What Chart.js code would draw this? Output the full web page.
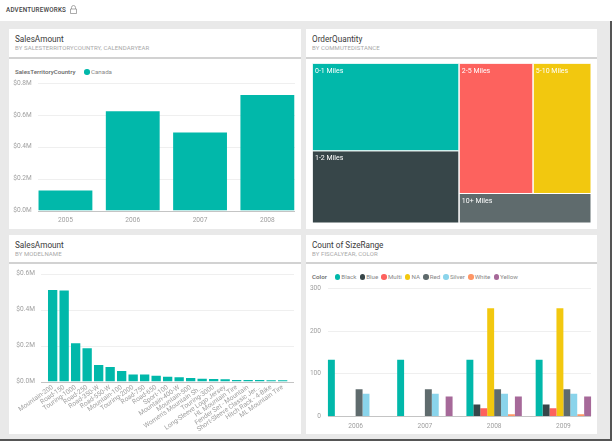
<!DOCTYPE html>
<html>
<head>
<meta charset="utf-8">
<script src="https://cdn.jsdelivr.net/npm/chart.js@4/dist/chart.umd.min.js"></script>
<style>
    html, body { margin: 0; padding: 0; background: #fff; }
    body { width: 614px; height: 443px; position: relative; overflow: hidden; font-family: Roboto, sans-serif; filter: blur(.3px); }
    #page { position: absolute; left: 0; top: 21px; width: 610px; height: 418px; background: #e9e9e9; border-right: 2px solid #555; border-bottom: 2px solid #555; }
    #brand { position: absolute; left: 6px; top: 3.5px; font-size: 6.3px; line-height: 12px; font-weight: 500; letter-spacing: .2px; color: #444; white-space: nowrap; }
    #lock { position: absolute; left: 70px; top: 5px; }
    .tile { position: absolute; background: #fff; }
    .head { position: absolute; background: #fff; border-bottom: 2px solid #d2d2d2; box-sizing: border-box; }
    .title { position: absolute; left: 6px; top: 2.5px; font-size: 8.2px; line-height: 14px; color: #3a3a3a; white-space: nowrap; }
    .sub { position: absolute; left: 6px; top: 14px; font-size: 6px; line-height: 10px; letter-spacing: .1px; color: #a8a8a8; white-space: nowrap; }
    canvas { position: absolute; }
    .legend { position: absolute; font-size: 6.2px; line-height: 10px; color: #888; white-space: nowrap; display: flex; align-items: center; }
    .legend b { font-weight: 500; color: #666; }
    .legend i { display: inline-block; width: 5.5px; height: 5.5px; border-radius: 50%; margin-right: 1px; }
</style>
</head>
<body>
<div id="page"></div>
<div id="brand">ADVENTUREWORKS</div>
<svg id="lock" width="7" height="9" viewBox="0 0 7 9"><path d="M1.5 4V2.5a2 2 0 0 1 4 0V4M.5 4h6v4.5h-6z" fill="none" stroke="#888" stroke-width=".7"/></svg>

<div class="tile" style="left:9px;top:29px;width:292px;height:200px"></div>
<div class="head" style="left:9px;top:29px;width:292px;height:30px"><div class="title">SalesAmount</div><div class="sub">BY SALESTERRITORYCOUNTRY, CALENDARYEAR</div></div>
<div class="legend" id="legendYear" style="left:15px;top:67px"></div>
<canvas id="yearChart" width="292" height="169" style="left:9px;top:60px"></canvas>

<div class="tile" style="left:306px;top:29px;width:291px;height:200px"></div>
<div class="head" style="left:306px;top:29px;width:291px;height:30px"><div class="title">OrderQuantity</div><div class="sub">BY COMMUTEDISTANCE</div></div>
<canvas id="commuteChart" width="291" height="169" style="left:306px;top:60px"></canvas>

<div class="tile" style="left:9px;top:235px;width:292px;height:199px"></div>
<div class="head" style="left:9px;top:235px;width:292px;height:29px"><div class="title">SalesAmount</div><div class="sub">BY MODELNAME</div></div>
<canvas id="modelChart" width="292" height="170" style="left:9px;top:264px"></canvas>

<div class="tile" style="left:306px;top:235px;width:291px;height:199px"></div>
<div class="head" style="left:306px;top:235px;width:291px;height:29px"><div class="title">Count of SizeRange</div><div class="sub">BY FISCALYEAR, COLOR</div></div>
<div class="legend" id="legendColor" style="left:312px;top:272px"></div>
<canvas id="sizeChart" width="292" height="170" style="left:306px;top:264px"></canvas>

<script>
    // Données
    const years = ['2005', '2006', '2007', '2008'];
    const salesByYear = [0.126, 0.622, 0.49, 0.724];
    const salesYearTicks = ['$0.0M', '$0.2M', '$0.4M', '$0.6M', '$0.8M'];

    const commuteNames = ['0-1 Miles', '1-2 Miles', '2-5 Miles', '5-10 Miles', '10+ Miles'];
    const commuteValues = [12670, 10490, 9510, 7475, 3855];

    const modelNames = ['Mountain-200', 'Road-150', 'Touring-1000', 'Road-250', 'Road-350-W', 'Road-550-W', 'Mountain-100',
        'Touring-2000', 'Road-750', 'Road-650', 'Sport-100', 'Mountain-400-W', 'Mountain-500', "Women's Mountain Sh...",
        'Touring-3000', 'Long-Sleeve Logo Jersey', 'HL Mountain Tire', 'Fender Set - Mountain', 'Short-Sleeve Classic Jer...',
        'Hitch Rack - 4-Bike', 'ML Mountain Tire'];
    const salesByModel = [0.509, 0.505, 0.213, 0.185, 0.091, 0.08, 0.059, 0.039, 0.039, 0.032, 0.026, 0.024, 0.02, 0.015,
        0.014, 0.012, 0.009, 0.009, 0.008, 0.007, 0.007];

    const fiscalYears = ['2006', '2007', '2008', '2009'];
    const colorNames = ['Black', 'Blue', 'Multi', 'NA', 'Red', 'Silver', 'White', 'Yellow'];
    const blackCounts = [132, 132, 132, 132];
    const blueCounts = [null, null, 27, 27];
    const multiCounts = [null, null, 18, 18];
    const naCounts = [null, null, 253, 253];
    const redCounts = [63, 63, 63, 63];
    const silverCounts = [52, 52, 52, 52];
    const whiteCounts = [null, null, 4, 4];
    const yellowCounts = [null, 46, 46, 46];

    const palette = ['#01B8AA', '#374649', '#FD625E', '#F2C80F', '#5F6B6D', '#8AD4EB', '#FE9666', '#A66999'];
    const tickFont = { family: 'Roboto, sans-serif', size: 6.6 };
    const tickColor = '#a0a0a0';

    // Lignes de grille plus courtes ou plus longues que la zone du graphique
    const gridLines = {
        id: 'gridLines',
        beforeDatasetsDraw(chart, args, opts) {
            const ctx = chart.ctx, y = chart.scales.y;
            ctx.save();
            ctx.lineWidth = 1;
            y.ticks.forEach(t => {
                const py = Math.round(y.getPixelForValue(t.value)) + 0.5;
                ctx.strokeStyle = t.value === 0 ? '#c4c4c4' : '#efefef';
                ctx.beginPath();
                ctx.moveTo(opts.from, py);
                ctx.lineTo(opts.to, py);
                ctx.stroke();
            });
            ctx.restore();
        }
    };

    function fixedSize(width) {
        return s => { s.width = width; s.paddingTop = 0; s.paddingBottom = 0; };
    }
    function fixedHeight(height) {
        return s => { s.height = height; s.paddingLeft = 0; s.paddingRight = 0; };
    }

    function barOptions(box, yMax, yStep, yFormat, xTicks) {
        return {
            responsive: false,
            animation: false,
            devicePixelRatio: 1,
            layout: { padding: { top: box.top, right: box.right, left: 0, bottom: 0 } },
            plugins: { legend: { display: false }, tooltip: { enabled: false }, gridLines: { from: box.from, to: box.to } },
            scales: {
                x: {
                    grid: { display: false, drawTicks: false },
                    border: { display: false },
                    afterFit: fixedHeight(box.xHeight),
                    ticks: Object.assign({ font: tickFont, color: tickColor, padding: 6, autoSkip: false, maxRotation: 0 }, xTicks)
                },
                y: {
                    min: 0,
                    max: yMax,
                    grid: { display: false, drawTicks: false },
                    border: { display: false },
                    afterFit: fixedSize(box.yWidth),
                    ticks: { stepSize: yStep, font: tickFont, color: tickColor, padding: box.yPad, callback: yFormat }
                }
            }
        };
    }

    new Chart(document.getElementById('yearChart'), {
        type: 'bar',
        data: {
            labels: years,
            datasets: [{ label: 'Canada', data: salesByYear, backgroundColor: palette[0], barPercentage: 1, categoryPercentage: 0.8 }]
        },
        options: barOptions({ top: 23, right: 0, from: 29, to: 286, xHeight: 18.5, yWidth: 22.8, yPad: 0 }, 0.8, 0.2,
            v => salesYearTicks[Math.round(v / 0.2)]),
        plugins: [gridLines]
    });

    new Chart(document.getElementById('modelChart'), {
        type: 'bar',
        data: {
            labels: modelNames,
            datasets: [{ label: 'SalesAmount', data: salesByModel, backgroundColor: palette[0], barPercentage: 1, categoryPercentage: 0.81 }]
        },
        options: barOptions({ top: 9.5, right: 12.6, from: 32, to: 285, xHeight: 52.5, yWidth: 37.9, yPad: 12 }, 0.6, 0.2,
            v => salesYearTicks[Math.round(v / 0.2)], { minRotation: 35, maxRotation: 35, padding: 2 }),
        plugins: [gridLines]
    });

    const sizeSeries = [blackCounts, blueCounts, multiCounts, naCounts, redCounts, silverCounts, whiteCounts, yellowCounts];
    new Chart(document.getElementById('sizeChart'), {
        type: 'bar',
        data: {
            labels: fiscalYears,
            datasets: colorNames.map((name, i) => ({
                label: name, data: sizeSeries[i], backgroundColor: palette[i], barPercentage: 1, categoryPercentage: 0.8
            }))
        },
        options: barOptions({ top: 24.3, right: 0, from: 22, to: 285, xHeight: 18, yWidth: 15, yPad: 0 }, 300, 100, v => v),
        plugins: [gridLines]
    });

    // Treemap : pas de type natif, polygones remplis dans les échelles linéaires
    const total = commuteValues.reduce((a, b) => a + b, 0);
    const [near, short, mid, far, longest] = commuteValues;
    const leftW = (near + short) / total;
    const rightW = 1 - leftW;
    const nearH = near / (near + short);
    const bottomH = longest / (mid + far + longest);
    const midW = mid / (mid + far) * rightW;
    const treeBoxes = [
        [0, 1 - nearH, leftW, 1],
        [0, 0, leftW, 1 - nearH],
        [leftW, bottomH, leftW + midW, 1],
        [leftW + midW, bottomH, 1, 1],
        [leftW, 0, 1, bottomH]
    ];
    const treeColors = [palette[0], palette[1], palette[2], palette[3], palette[4]];

    const treeLabels = {
        id: 'treeLabels',
        afterDatasetsDraw(chart) {
            const ctx = chart.ctx, x = chart.scales.x, y = chart.scales.y;
            ctx.save();
            ctx.fillStyle = '#fff';
            ctx.font = '7px Roboto, sans-serif';
            ctx.textBaseline = 'middle';
            treeBoxes.forEach((b, i) => {
                ctx.fillText(commuteNames[i], x.getPixelForValue(b[0]) + 3, y.getPixelForValue(b[3]) + 7.5);
            });
            ctx.restore();
        }
    };

    new Chart(document.getElementById('commuteChart'), {
        type: 'scatter',
        data: {
            datasets: treeBoxes.map((b, i) => ({
                label: commuteNames[i],
                data: [{ x: b[0], y: b[1] }, { x: b[2], y: b[1] }, { x: b[2], y: b[3] }, { x: b[0], y: b[3] }, { x: b[0], y: b[1] }],
                showLine: true,
                fill: 'shape',
                tension: 0,
                pointRadius: 0,
                borderWidth: 1,
                borderColor: '#fff',
                backgroundColor: treeColors[i]
            }))
        },
        options: {
            responsive: false,
            animation: false,
            devicePixelRatio: 1,
            layout: { padding: { left: 6, right: 6, top: 3.5, bottom: 6 } },
            plugins: { legend: { display: false }, tooltip: { enabled: false } },
            scales: {
                x: { type: 'linear', min: 0, max: 1, display: false },
                y: { type: 'linear', min: 0, max: 1, display: false }
            }
        },
        plugins: [treeLabels]
    });

    // Légendes en HTML
    function buildLegend(id, title, titleGap, names, colors) {
        const el = document.getElementById(id);
        const head = document.createElement('b');
        head.textContent = title;
        head.style.marginRight = titleGap + 'px';
        el.appendChild(head);
        names.forEach((name, i) => {
            const dot = document.createElement('i');
            dot.style.background = colors[i];
            const txt = document.createElement('span');
            txt.textContent = name;
            txt.style.marginRight = '3.2px';
            el.appendChild(dot);
            el.appendChild(txt);
        });
    }
    buildLegend('legendYear', 'SalesTerritoryCountry', 9, ['Canada'], palette);
    buildLegend('legendColor', 'Color', 8, colorNames, palette);
</script>
</body>
</html>
